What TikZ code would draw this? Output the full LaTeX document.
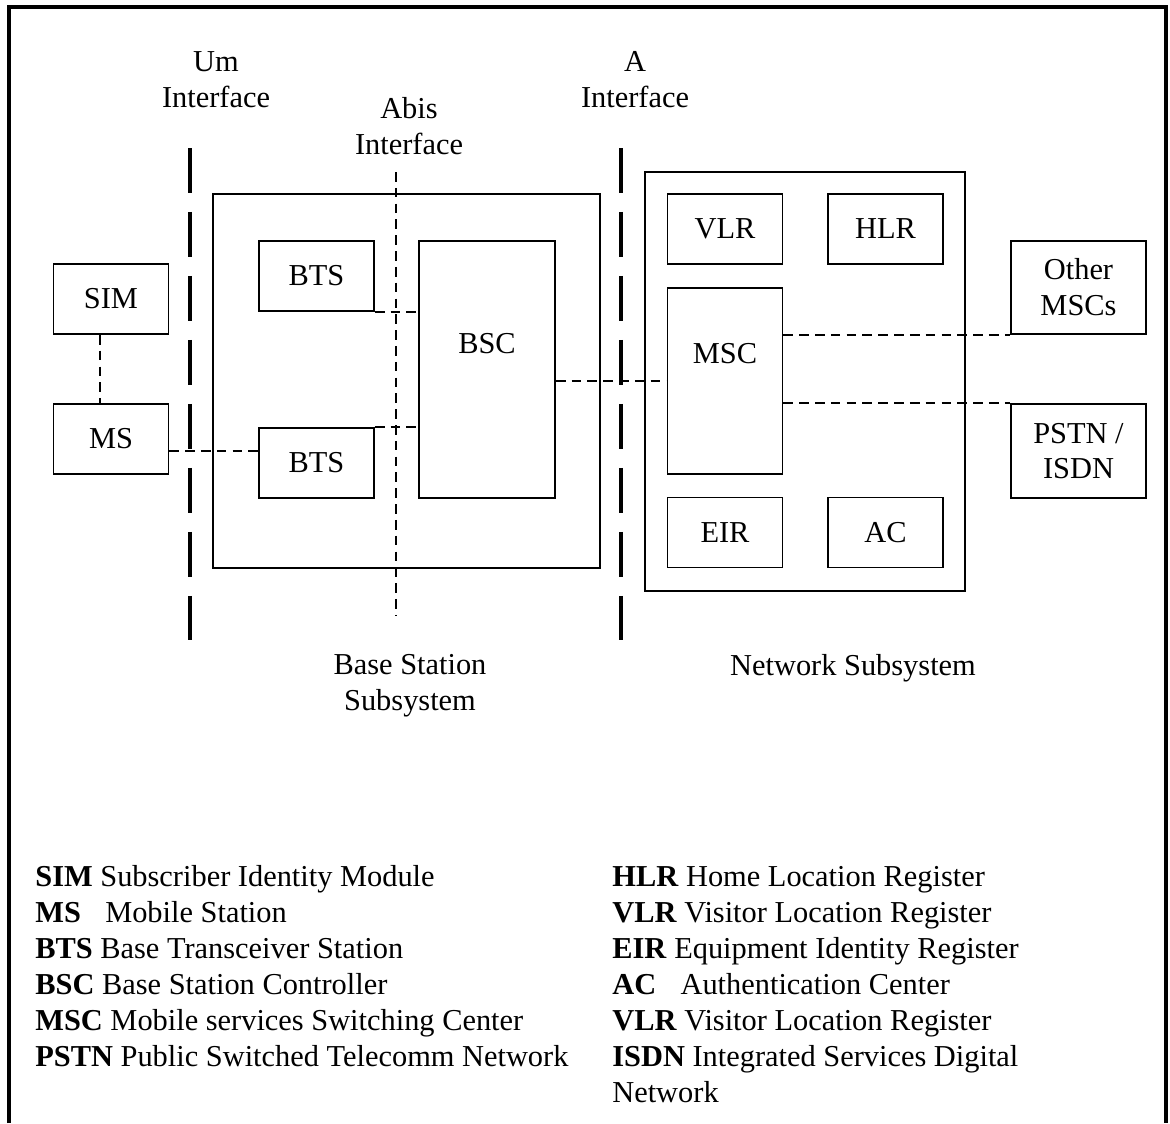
\documentclass[tikz,border=0pt]{standalone}
\usepackage{fontspec}
\setmainfont{Liberation Serif}
\tikzset{
	unit/.style={draw, line width=1pt, minimum width=2.3cm, minimum height=1.4cm},
	subsys/.style={draw, line width=1pt},
	link/.style={line width=0.8pt, dash pattern=on 5.5pt off 3.5pt},
	iface/.style={line width=2.8pt, dash pattern=on 0.9cm off 0.38cm},
	legend/.style={anchor=base west, inner sep=0pt}
}
\begin{document}
\begin{tikzpicture}[x=0.02cm, y=-0.02cm, font=\fontsize{17.3}{20.4}\selectfont]
		\useasboundingbox (0,0) rectangle (1170,1123);
		\draw[line width=2.2pt] (9,1123) -- (9,7) -- (1166,7) -- (1166,1123);
		\draw
		node[subsys, minimum width=7.74cm, minimum height=7.48cm] at (406.5,381) (bss) {}
		node[subsys, minimum width=6.4cm, minimum height=8.38cm] at (805,381.5) (nss) {}
		node[unit] at (111,299) (sim) {SIM}
		node[unit] at (111,439) (ms) {MS}
		node[unit] at (316.5,276) (bts1) {BTS}
		node[unit] at (316.5,463) (bts2) {BTS}
		node[unit, minimum width=2.72cm, minimum height=5.14cm, label={[anchor=center, yshift=-2.06cm]above:BSC}] at (487,369.5) (bsc) {}
		node[unit] at (725,229) (vlr) {VLR}
		node[unit] at (885.5,229) (hlr) {HLR}
		node[unit, minimum height=3.72cm, label={[anchor=center, yshift=-1.32cm]above:MSC}] at (725,381) (msc) {}
		node[unit] at (725,532.5) (eir) {EIR}
		node[unit] at (885.5,532.5) (ac) {AC}
		node[unit, minimum width=2.7cm, minimum height=1.86cm, align=center] at (1078.5,287.5) (other) {Other\\MSCs}
		node[unit, minimum width=2.7cm, minimum height=1.88cm, align=center] at (1078.5,451) (pstn) {PSTN /\\ISDN}
		node[align=center] at (216,80) (umlbl) {Um\\Interface}
		node[align=center] at (409,126) (abislbl) {Abis\\Interface}
		node[align=center] at (635,80) (albl) {A\\Interface}
		node[align=center] at (410,686) (bsslbl) {Base Station\\Subsystem}
		node at (853,668) (nsslbl) {Network Subsystem};
		% interfaces
		\coordinate (umtop) at (190,148);
		\coordinate (umbot) at (190,640);
		\coordinate (atop) at (621,148);
		\coordinate (abot) at (621,640);
		\coordinate (abistop) at (396,172);
		\coordinate (abisbot) at (396,615);
		\draw[iface] (umtop) -- (umbot) (atop) -- (abot);
		\draw[link] (abistop) -- (abisbot);
		% links
		\draw[link]
		([xshift=-0.22cm]sim.south) -- ([xshift=-0.22cm]ms.north)
		([yshift=-0.24cm]ms.east) -- ([yshift=-0.24cm]ms.east -| bts2.west)
		(bts1.south east) -- (bts1.south east -| bsc.west)
		(bts2.north east) -- (bts2.north east -| bsc.west)
		(msc.west -| bsc.east) -- (msc.west)
		(other.south west -| msc.east) -- (other.south west)
		(pstn.north west -| msc.east) -- (pstn.north west);
		% legend
		\draw
		node[legend] at (35,886) (lsim) {\textbf{SIM} Subscriber Identity Module}
		node[legend] at (35,922) (lms) {\textbf{MS}\hspace{0.8em}Mobile Station}
		node[legend] at (35,958) (lbts) {\textbf{BTS} Base Transceiver Station}
		node[legend] at (35,994) (lbsc) {\textbf{BSC} Base Station Controller}
		node[legend] at (35,1030) (lmsc) {\textbf{MSC} Mobile services Switching Center}
		node[legend] at (35,1066) (lpstn) {\textbf{PSTN} Public Switched Telecomm Network}
		node[legend] at (612,886) (lhlr) {\textbf{HLR} Home Location Register}
		node[legend] at (612,922) (lvlr) {\textbf{VLR} Visitor Location Register}
		node[legend] at (612,958) (leir) {\textbf{EIR} Equipment Identity Register}
		node[legend] at (612,994) (lac) {\textbf{AC}\hspace{0.8em}Authentication Center}
		node[legend] at (612,1030) (lvlrb) {\textbf{VLR} Visitor Location Register}
		node[legend] at (612,1066) (lisdn) {\textbf{ISDN} Integrated Services Digital}
		node[legend] at (612,1102) (lnet) {Network};
	\end{tikzpicture}
\end{document}
